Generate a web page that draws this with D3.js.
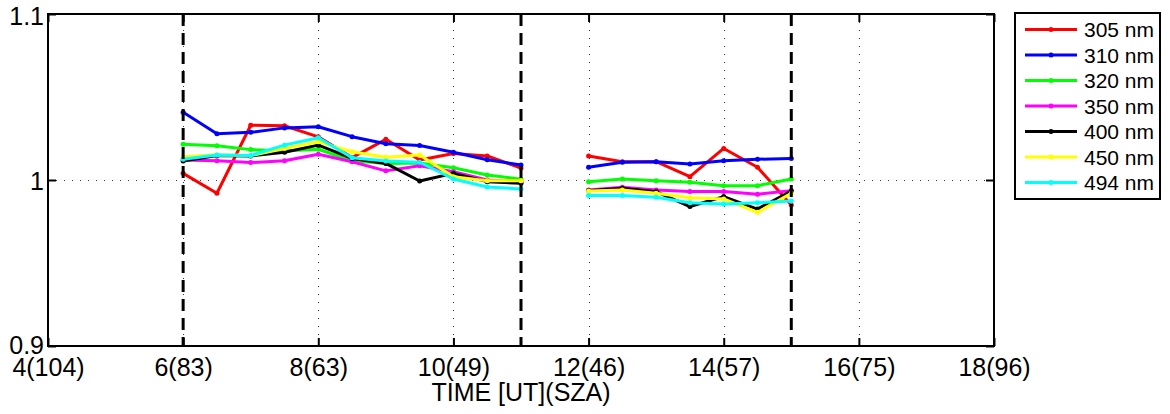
<!DOCTYPE html>
<html><head><meta charset="utf-8">
<script src="https://cdn.jsdelivr.net/npm/d3@7"></script>
<style>body{margin:0;background:#fff}svg{display:block}text{font-family:"Liberation Sans",Arial,sans-serif}</style>
</head><body><svg id="c" width="1170" height="414"></svg>
<script>
const hoursAM = [6, 6.5, 7, 7.5, 8, 8.5, 9, 9.5, 10, 10.5, 11];
const hoursPM = [12, 12.5, 13, 13.5, 14, 14.5, 15];
const seriesNames = ["305 nm", "310 nm", "320 nm", "350 nm", "400 nm", "450 nm", "494 nm"];
const seriesColors = ["#ff0000", "#0000ff", "#00ff00", "#ff00ff", "#000000", "#ffff00", "#00ffff"];
const am305 = [1.004, 0.992, 1.033, 1.0327, 1.026, 1.0135, 1.0245, 1.012, 1.016, 1.0145, 1.0072];
const pm305 = [1.0145, 1.011, 1.011, 1.002, 1.019, 1.0077, 0.985];
const am310 = [1.0408, 1.0278, 1.0287, 1.0314, 1.0321, 1.0261, 1.0218, 1.0208, 1.0167, 1.0122, 1.009];
const pm310 = [1.0077, 1.0107, 1.011, 1.0096, 1.0116, 1.0125, 1.013];
const am320 = [1.0215, 1.0207, 1.0183, 1.0175, 1.0185, 1.0116, 1.010, 1.0102, 1.0074, 1.003, 1.0005];
const pm320 = [0.999, 1.0006, 0.9996, 0.9986, 0.9966, 0.9966, 1.0006];
const am350 = [1.012, 1.0116, 1.0105, 1.0116, 1.0155, 1.011, 1.0055, 1.0086, 1.005, 1.000, 0.999];
const pm350 = [0.994, 0.9956, 0.994, 0.993, 0.993, 0.9914, 0.9936];
const am400 = [1.0114, 1.0147, 1.0145, 1.0167, 1.021, 1.013, 1.010, 0.9994, 1.004, 0.999, 0.998];
const pm400 = [0.9936, 0.995, 0.993, 0.984, 0.990, 0.9825, 0.9934];
const am450 = [1.014, 1.0152, 1.0147, 1.019, 1.023, 1.017, 1.0137, 1.015, 1.002, 0.9996, 0.9996];
const pm450 = [0.9934, 0.994, 0.992, 0.9893, 0.9886, 0.9805, 0.992];
const am494 = [1.0125, 1.015, 1.0148, 1.021, 1.0255, 1.0134, 1.0115, 1.0107, 1.0006, 0.9958, 0.9946];
const pm494 = [0.9906, 0.9906, 0.9896, 0.9863, 0.9855, 0.9863, 0.9873];
const xTicks = [4, 6, 8, 10, 12, 14, 16, 18];
const xTickLabels = ["4(104)", "6(83)", "8(63)", "10(49)", "12(46)", "14(57)", "16(75)", "18(96)"];
const yTicks = [0.9, 1, 1.1];
const yTickLabels = ["0.9", "1", "1.1"];
const markerHours = [6, 11, 15];
const xTitle = "TIME [UT](SZA)";

const amSeries = [am305, am310, am320, am350, am400, am450, am494];
const pmSeries = [pm305, pm310, pm320, pm350, pm400, pm450, pm494];

const L = 48, R = 994, T = 14, B = 346;
const svg = d3.select("#c");
const x = d3.scaleLinear().domain([4, 18]).range([L, R]);
const y = d3.scaleLinear().domain([0.9, 1.1]).range([B, T]);

// grid (dotted)
const grid = svg.append("g").attr("stroke", "#333").attr("stroke-width", 1).attr("stroke-dasharray", "1,7");
xTicks.slice(1, -1).forEach(t => grid.append("line").attr("x1", Math.round(x(t)) + 0.5).attr("x2", Math.round(x(t)) + 0.5).attr("y1", T).attr("y2", B));
yTicks.slice(1, -1).forEach(t => grid.append("line").attr("y1", Math.round(y(t)) + 0.5).attr("y2", Math.round(y(t)) + 0.5).attr("x1", L).attr("x2", R));

// series
const line = d3.line().x(d => x(d[0])).y(d => y(d[1]));
seriesNames.forEach((name, i) => {
  const g = svg.append("g");
  [[hoursAM, amSeries[i]], [hoursPM, pmSeries[i]]].forEach(([hs, vs]) => {
    const pts = hs.map((h, j) => [h, vs[j]]);
    g.append("path").attr("d", line(pts)).attr("fill", "none").attr("stroke", seriesColors[i]).attr("stroke-width", 3).attr("stroke-linejoin", "round");
    g.selectAll(null).data(pts).enter().append("circle").attr("cx", d => x(d[0])).attr("cy", d => y(d[1])).attr("r", 2.5).attr("fill", seriesColors[i]);
  });
});

// vertical dashed marker lines
markerHours.forEach(h => svg.append("line").attr("x1", x(h)).attr("x2", x(h)).attr("y1", T).attr("y2", B)
  .attr("stroke", "#000").attr("stroke-width", 3).attr("stroke-dasharray", "12,7"));

// axes
const axB = d3.axisBottom(x).tickValues(xTicks).tickFormat((d, i) => xTickLabels[i]).tickSizeInner(-8).tickSizeOuter(0).tickPadding(14);
const axT = d3.axisTop(x).tickValues(xTicks).tickFormat("").tickSizeInner(-8).tickSizeOuter(0);
const axL = d3.axisLeft(y).tickValues(yTicks).tickFormat((d, i) => yTickLabels[i]).tickSizeInner(-8).tickSizeOuter(0).tickPadding(6);
const axR = d3.axisRight(y).tickValues(yTicks).tickFormat("").tickSizeInner(-8).tickSizeOuter(0);
function style(g) {
  g.select(".domain").remove();
  g.selectAll(".tick line").attr("stroke", "#000").attr("stroke-width", 2);
  g.selectAll("text").attr("font-size", 25).attr("fill", "#000").attr("font-family", '"Liberation Sans",Arial,sans-serif');
}
svg.append("g").attr("transform", `translate(0,${B})`).call(axB).call(style)
  .selectAll("text").attr("dy", "0.71em").attr("y", 12);
svg.append("g").attr("transform", `translate(0,${T})`).call(axT).call(style);
const gl = svg.append("g").attr("transform", `translate(${L},0)`).call(axL).call(style);
gl.selectAll("text").attr("x", -4).attr("dy", d => d === yTicks[0] ? "0.30em" : (d === yTicks[yTicks.length - 1] ? "0.40em" : "0.37em"));
svg.append("g").attr("transform", `translate(${R},0)`).call(axR).call(style);

svg.append("rect").attr("x", L).attr("y", T).attr("width", R - L).attr("height", B - T)
  .attr("fill", "none").attr("stroke", "#000").attr("stroke-width", 2);

svg.append("text").attr("x", (L + R) / 2).attr("y", 401).attr("text-anchor", "middle").attr("font-size", 25).text(xTitle);

// legend
const lg = svg.append("g");
lg.append("rect").attr("x", 1015).attr("y", 13).attr("width", 145).attr("height", 186).attr("fill", "#fff").attr("stroke", "#000").attr("stroke-width", 2);
seriesNames.forEach((n, i) => {
  const yy = 29.5 + i * 25.5;
  lg.append("line").attr("x1", 1025).attr("x2", 1077).attr("y1", yy).attr("y2", yy).attr("stroke", seriesColors[i]).attr("stroke-width", 3);
  lg.append("circle").attr("cx", 1051).attr("cy", yy).attr("r", 2.5).attr("fill", seriesColors[i]);
  lg.append("text").attr("x", 1084).attr("y", yy).attr("dy", "0.36em").attr("font-size", 21).text(n);
});
</script></body></html>
